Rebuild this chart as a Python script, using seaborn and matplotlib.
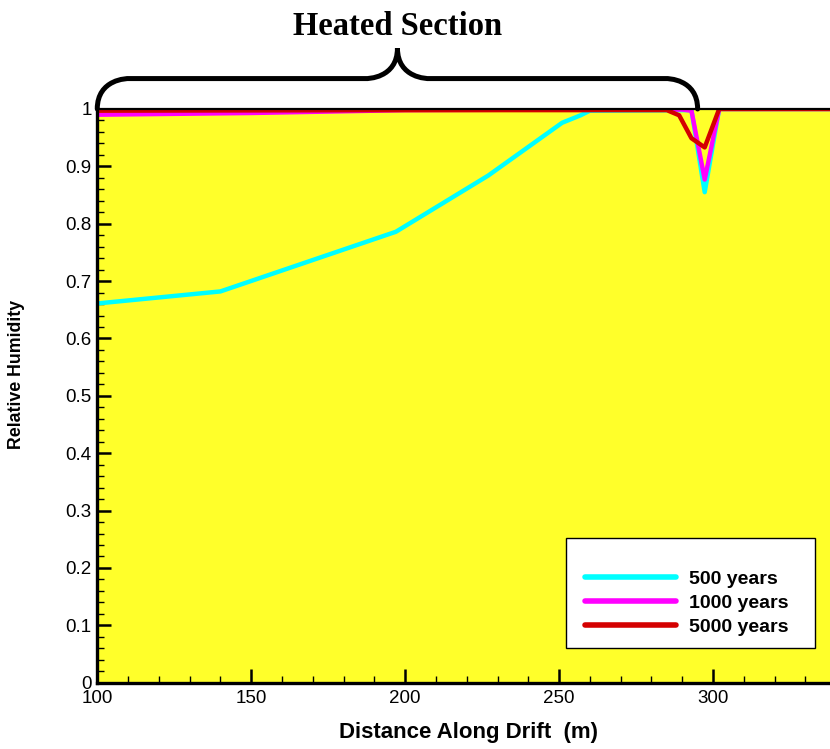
import numpy as np
import pandas as pd
import seaborn as sns
from matplotlib import pyplot as plt
from matplotlib.path import Path
from matplotlib.patches import PathPatch, Rectangle
import matplotlib.transforms as mtransforms

# data
x_500 = [100, 140, 197, 227, 251, 257, 260, 293, 297.3, 302, 338]
rh_500 = [0.661, 0.682, 0.786, 0.884, 0.976, 0.989, 0.997, 0.998, 0.855, 1.0, 1.0]

x_1000 = [100, 150, 200, 250, 290, 293, 297.3, 302, 338]
rh_1000 = [0.990, 0.993, 0.998, 0.999, 0.999, 0.997, 0.877, 1.0, 1.0]

x_5000 = [100, 200, 285, 289, 293, 297.3, 302, 338]
rh_5000 = [0.997, 0.998, 0.998, 0.989, 0.949, 0.933, 1.0, 1.0]

labels = ['500 years', '1000 years', '5000 years']
colors = ['#00ffff', '#ff00ff', '#d40000']

heated_start = 100
heated_end = 295

df = pd.concat([
    pd.DataFrame({'x': x_500, 'rh': rh_500, 'case': labels[0]}),
    pd.DataFrame({'x': x_1000, 'rh': rh_1000, 'case': labels[1]}),
    pd.DataFrame({'x': x_5000, 'rh': rh_5000, 'case': labels[2]}),
])

sns.set_style('ticks')
plt.rcParams['font.family'] = ['Liberation Sans', 'DejaVu Sans']
for k in ['text.color', 'axes.labelcolor', 'xtick.color', 'ytick.color']:
    plt.rcParams[k] = 'black'

fig = plt.figure(figsize=(8.3, 7.49), dpi=100)
ax = fig.add_axes([0.1172, 0.0885, 0.8828, 0.766])
ax.set_facecolor('#ffff2a')

sns.lineplot(data=df, x='x', y='rh', hue='case', palette=dict(zip(labels, colors)),
             sort=False, estimator=None, linewidth=3.2, ax=ax)

ax.set_xlim(100, 338)
ax.set_ylim(0, 1)
ax.set_xticks(np.arange(100, 301, 50))
ax.set_xticks(np.arange(100, 338, 10), minor=True)
ax.set_yticks(np.round(np.arange(0, 1.01, 0.1), 1))
ax.set_yticks(np.arange(0, 1.0, 0.02), minor=True)
ax.set_yticklabels(['0'] + [f'{v:.1f}' for v in np.arange(0.1, 0.95, 0.1)] + ['1'])

ax.tick_params(which='major', direction='in', length=10, width=1.8, labelsize=13.5, pad=4)
ax.tick_params(which='minor', direction='in', length=5, width=1.0)
ax.tick_params(axis='x', pad=5)

for s in ['left', 'bottom']:
    ax.spines[s].set_linewidth(2.4)
ax.spines['top'].set_linewidth(1.6)
ax.spines['right'].set_visible(False)
for s in ax.spines.values():
    s.set_color('black')

ax.set_xlabel('Distance Along Drift  (m)', fontsize=16, fontweight='bold')
ax.xaxis.set_label_coords(0.507, -0.068)
ax.set_ylabel('Relative Humidity', fontsize=12.8, fontweight='bold')
ax.yaxis.set_label_coords(-0.0987, 0.538)

# legend box drawn separately, entries placed inside it
ax.add_patch(Rectangle((0.6397, 0.0605), 0.3398, 0.1917, transform=ax.transAxes,
                       facecolor='white', edgecolor='black', lw=1.0, zorder=4.5))
leg = ax.legend(loc='center left', bbox_to_anchor=(0.6656, 0.139), frameon=False,
                prop={'weight': 'bold', 'size': 14}, handlelength=4.7,
                handletextpad=0.65, labelspacing=0.32, borderpad=0,
                borderaxespad=0)
leg.set_zorder(5)
for line in leg.get_lines():
    line.set_linewidth(4)
    line.set_solid_capstyle('round')

# curly brace over the heated section
trans = mtransforms.blended_transform_factory(ax.transData, ax.transAxes)
x0, x1 = heated_start, heated_end
xm = (x0 + x1) / 2
yb, ybar, ytip = 1.0, 1.053, 1.106
r = 10
verts = [(x0, yb), (x0, ybar), (x0 + r, ybar), (x0 + r, ybar),
         (xm - r, ybar), (xm - r, ybar), (xm, ybar), (xm, ytip),
         (xm, ybar), (xm + r, ybar), (xm + r, ybar),
         (x1 - r, ybar), (x1 - r, ybar), (x1, ybar), (x1, yb)]
codes = [Path.MOVETO, Path.CURVE4, Path.CURVE4, Path.CURVE4,
         Path.LINETO, Path.CURVE4, Path.CURVE4, Path.CURVE4,
         Path.CURVE4, Path.CURVE4, Path.CURVE4,
         Path.LINETO, Path.CURVE4, Path.CURVE4, Path.CURVE4]
brace = PathPatch(Path(verts, codes), transform=trans, fill=False,
                  lw=3.6, color='black', clip_on=False, capstyle='round')
ax.add_patch(brace)
ax.text(xm, 1.129, 'Heated Section', transform=trans, ha='center', va='baseline',
        fontsize=23.5, fontweight='bold', family=['Liberation Serif', 'DejaVu Serif'])

plt.savefig('out.png', dpi=100)
